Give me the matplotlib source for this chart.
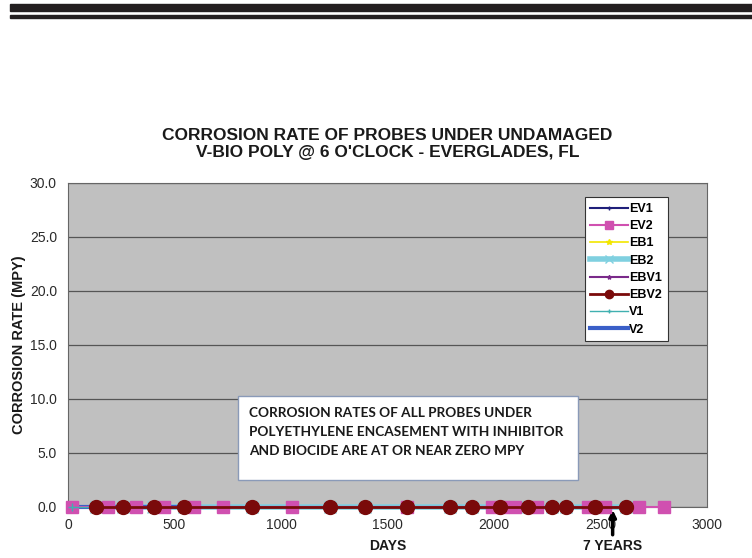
import matplotlib.pyplot as plt
from matplotlib.patches import Rectangle

plt.rcParams['font.family'] = ['Liberation Sans', 'DejaVu Sans']

# Datos (dias, tasa de corrosion en MPY)
dias_ev1 = [20, 130, 190, 260, 320, 400, 450, 545, 590, 1230, 1395, 1590, 1795,
            1895, 1990, 2040, 2100, 2160, 2200, 2270, 2340, 2440, 2480, 2520]
dias_ev2 = [20, 190, 320, 450, 590, 730, 1050, 1590, 1990, 2040, 2100, 2200,
            2440, 2520, 2680, 2800]
dias_eb1 = [20, 190, 320, 450, 590]
dias_eb2 = [130, 260, 400, 545, 865, 1230, 1395, 1590, 1795, 1895, 2030, 2160,
            2270, 2340, 2475, 2620]
dias_ebv1 = [20, 190, 320, 450, 590, 1590, 2040, 2200, 2520]
dias_ebv2 = [130, 260, 405, 545, 865, 1230, 1395, 1590, 1795, 1895, 2030, 2160,
             2270, 2340, 2475, 2620]
dias_v1 = [20, 130, 260, 400, 545, 865, 1230, 1395, 1590, 1795, 1895, 2030,
           2160, 2270, 2340, 2475, 2620]
dias_v2 = [20, 130, 260, 400, 545, 600]

tasa_ev1 = [0.0] * len(dias_ev1)
tasa_ev2 = [0.0] * len(dias_ev2)
tasa_eb1 = [0.0] * len(dias_eb1)
tasa_eb2 = [0.0] * len(dias_eb2)
tasa_ebv1 = [0.0] * len(dias_ebv1)
tasa_ebv2 = [0.0] * len(dias_ebv2)
tasa_v1 = [0.0] * len(dias_v1)
tasa_v2 = [0.0] * len(dias_v2)

dia_7_anos = 2557

fig = plt.figure(figsize=(7.52, 5.58), dpi=100)

# Barras negras de la cabecera
fig.patches.append(Rectangle((10 / 752, 1 - 11 / 558), 742 / 752, 7 / 558,
                             transform=fig.transFigure, color='#231f20'))
fig.patches.append(Rectangle((10 / 752, 1 - 18 / 558), 742 / 752, 3 / 558,
                             transform=fig.transFigure, color='#231f20'))

ax = fig.add_axes([68 / 752, 1 - 507 / 558, 639 / 752, 324 / 558])
ax.set_facecolor('#c0c0c0')

ax.plot(dias_ev1, tasa_ev1, color='#1f1f7a', marker='+', markersize=6, lw=1.5,
        label='EV1', clip_on=False, zorder=3)
ax.plot(dias_eb1, tasa_eb1, color='#f2e600', marker='*', markersize=7, lw=1.2,
        label='EB1', clip_on=False, zorder=3)
ax.plot(dias_eb2, tasa_eb2, color='#7fd0e0', marker='x', markersize=9, lw=4,
        label='EB2', clip_on=False, zorder=3)
ax.plot(dias_ebv1, tasa_ebv1, color='#7a2a8a', marker='*', markersize=5, lw=1.5,
        label='EBV1', clip_on=False, zorder=3)
ax.plot(dias_v2, tasa_v2, color='#3a5fc8', lw=3, label='V2', clip_on=False, zorder=4)
ax.plot(dias_ev2, tasa_ev2, color='#d050b0', marker='s', markersize=9, lw=1.5,
        label='EV2', clip_on=False, zorder=5)
ax.plot(dias_v1, tasa_v1, color='#40b0b0', marker='+', markersize=6, lw=1,
        label='V1', clip_on=False, zorder=5)
ax.plot(dias_ebv2, tasa_ebv2, color='#7a0a0a', marker='o', markersize=10, lw=2,
        label='EBV2', clip_on=False, zorder=6)

ax.set_xlim(0, 3000)
ax.set_ylim(0, 30)
ax.set_xticks(range(0, 3001, 500))
ax.set_yticks(range(0, 31, 5))
ax.set_yticklabels(['%.1f' % v for v in range(0, 31, 5)])
ax.tick_params(labelsize=10, colors='#2a2a2a', length=0, pad=8)
ax.grid(axis='y', color='#555555', lw=0.9)
ax.set_axisbelow(True)
for s in ax.spines.values():
    s.set_color('#666666')

ax.set_title("CORROSION RATE OF PROBES UNDER UNDAMAGED\nV-BIO POLY @ 6 O'CLOCK - EVERGLADES, FL",
             fontsize=12.5, fontweight='bold', color='#1a1a1a', pad=19, linespacing=1.1)
ax.set_ylabel('CORROSION RATE (MPY)', fontsize=10.5, fontweight='bold', color='#1a1a1a')
ax.yaxis.set_label_coords(-0.066, 0.5)
ax.set_xlabel('DAYS', fontsize=10, fontweight='bold', color='#1a1a1a', labelpad=5)

handles, labels = ax.get_legend_handles_labels()
orden = ['EV1', 'EV2', 'EB1', 'EB2', 'EBV1', 'EBV2', 'V1', 'V2']
pares = dict(zip(labels, handles))
leg = ax.legend([pares[k] for k in orden], orden, loc='upper right',
                bbox_to_anchor=(0.948, 0.975), fontsize=9, frameon=True,
                fancybox=False, handlelength=3.0, handletextpad=0.1,
                labelspacing=0.42, borderpad=0.45, markerscale=0.6, framealpha=1)
leg.get_frame().set_edgecolor('#333333')
leg.get_frame().set_facecolor('white')
leg.get_frame().set_linewidth(0.8)
for t in leg.get_texts():
    t.set_fontweight('bold')

# Cuadro de texto
ax.add_patch(Rectangle((0.266, 0.083), 0.532, 0.259, transform=ax.transAxes,
                       facecolor='white', edgecolor='#8a9ab8', lw=1, zorder=7))
ax.text(0.284, 0.31,
        'CORROSION RATES OF ALL PROBES UNDER\nPOLYETHYLENE ENCASEMENT WITH INHIBITOR\n'
        'AND BIOCIDE ARE AT OR NEAR ZERO MPY',
        transform=ax.transAxes, fontsize=9.8, fontweight='bold', family=['Lato', 'DejaVu Sans'],
        va='top', ha='left', linespacing=1.7, color='#1a1a1a', zorder=8)

# Flecha de 7 anos
ax.annotate('7 YEARS', xy=(dia_7_anos, 0), xytext=(0, -23), textcoords='offset points',
            ha='center', va='top', fontsize=10, fontweight='bold', color='#1a1a1a',
            annotation_clip=False,
            arrowprops=dict(arrowstyle='-|>', color='black', lw=2.5, mutation_scale=10,
                            shrinkA=1, shrinkB=2))

fig.savefig('out.png', dpi=100)
